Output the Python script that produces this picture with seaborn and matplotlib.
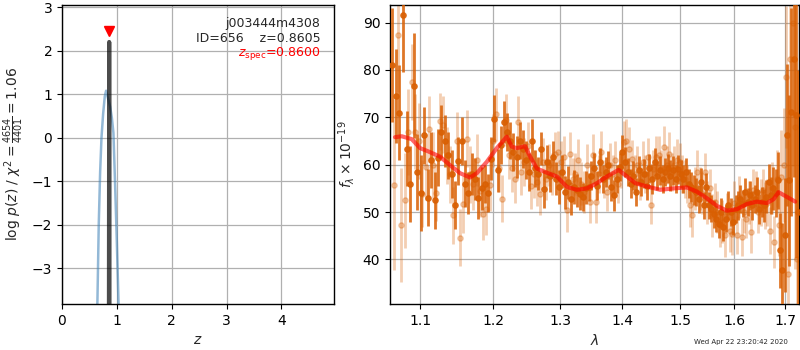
import numpy as np
import matplotlib
matplotlib.use("Agg")
import matplotlib.pyplot as plt
from matplotlib.ticker import NullLocator
import seaborn as sns

# ---------------- redshift probability ----------------
z_coarse = [0.63, 0.646, 0.67, 0.695, 0.72, 0.75, 0.78, 0.804, 0.83, 0.86,
            0.877, 0.91, 0.938, 0.969, 1.0, 1.03, 1.05]
logp_coarse = [-4.5, -3.75, -2.0, -0.8, 0.0, 0.55, 0.95, 1.08, 0.95, 0.8,
               0.72, 0.45, 0.11, -1.1, -2.4, -3.76, -4.5]
z_fine = [0.852, 0.8605, 0.869]
logp_fine = [-9.0, 2.2, -9.0]
z_best = 0.8605
z_spec = 0.8600
chi2_num = 4654
chi2_dof = 4401
obj_name = "j003444m4308"
obj_id = 656

# ---------------- 1D spectrum ----------------
pix_step = 0.0046          # microns per grism pixel
dark_wave0 = 1.0640
light_wave0 = 1.0663

dark_flux = (
    [81, 74.5, 71, 91.5, 63.4, 56, 76.7, 58.5, 54, 66.2, 53, 61, 52.5, 61.5, 67,
     65, 62, 58, 51.5, 60.8, 65, 56, 54, 58, 57, 53, 55, 56, 54]
    + [61.3, 69.7, 58.8, 64.1, 69, 66.9, 65.1, 62.7, 61.6, 65.1, 63.4, 60.9,
       58.5, 65.1, 59.2, 58.1, 63.4, 54.9, 60.6, 57.7, 61.6, 57, 55.3, 58.5,
       54.2, 56.3, 52.8, 55.3, 54.6, 53.9, 53.2, 55.1, 55.3]
    + [57.7, 59.2, 55.6, 60.6, 57, 58.5, 59.9, 55.3, 53.5, 57, 59.5, 62.7,
       60.6, 58.5, 56, 57.7, 54.2, 58.8, 56.3, 58.1, 55.6, 59.2, 57, 60.6,
       57.7, 58.8, 57, 58.5, 59.2, 57.7, 58.8, 57, 59, 58, 57, 58.5, 56, 55.3,
       54.6]
    + [54.2, 52.8, 56.3, 51.4, 55.3, 51.4, 50.7, 49.6, 48.6, 47.5, 50, 46.8,
       48.6, 51.4, 50, 47.9, 50.7, 51.4, 52.8, 51.8, 54.2, 52.1, 53.5, 51.4,
       52.8, 54.2, 50.7, 52.1, 51.4, 53.2, 56.3, 53.5, 55, 54, 56.7,
       41.9, 37.7, 45.1, 66.2, 56.7, 71.1, 82.4, 70.4, 50]
)
dark_err = (
    [12, 10, 10, 12, 8, 8, 11, 8, 8]
    + [6, 6, 6, 6, 6, 5.5, 5.5, 5, 5, 5, 5, 5, 5, 4.5, 4.5, 4.5, 4.5, 4.5, 4, 4]
    + [4.5, 5, 4.5, 4, 4.5, 4, 4, 4, 4.5, 4, 4, 4, 4, 4.5, 4, 3.5, 3.5, 4,
       3.5, 3.5, 3.5, 3.5, 3.5, 3.5, 3.5, 3.5, 3.5, 3.5, 3.5, 3.5, 3, 3.5, 3]
    + [3, 3.2, 3, 3, 3, 3.2, 3, 3, 3.2, 3, 3, 3.5, 3.2, 3, 3, 3, 3, 3, 3, 3,
       3, 3, 3.2, 3, 3, 3, 3, 3, 3, 3.2, 3, 3, 3, 3, 3, 3, 3, 3.2, 3.2]
    + [3, 3, 3, 2.8, 3, 2.8, 2.8, 3, 2.8, 3, 3, 3, 2.8, 3, 3, 2.8, 3, 3, 3,
       2.8, 3, 3, 3, 3, 3, 3.2, 3.2, 3.2, 3.5, 3.5, 3.8, 4, 4.5, 5, 6]
    + [8, 10, 12, 15, 18, 22, 25, 30, 30]
)

light_flux = (
    [55.8, 87.3, 47.2, 52.5, 66.9, 77.5, 67, 65, 53.9, 59.5, 67.6, 60, 54.1,
     69.2, 68.4, 62, 58, 49.3, 65.1, 44.6, 51.6, 65.5, 58, 56, 61, 54.5, 49.6,
     50.6, 55.8]
    + [65.1, 70.6, 59.2, 52.8, 69.4, 62, 59.2, 57, 69, 58.5, 60.6, 64, 55.6,
       58, 56.3, 53.9, 60.6, 57, 59.9, 58, 62.3, 62.7, 60.6, 61.6, 50.4, 62.3,
       57, 58, 60.9, 56, 54.2, 59.9, 52.1]
    + [62, 52.1, 58, 62.7, 57, 54.2, 60, 58, 61, 56, 59, 64.8, 65.1, 63.4,
       61.3, 58, 60, 56.5, 60.6, 58, 61.6, 51.4, 59, 61.6, 62, 59, 63.7, 60,
       62.3, 58.5, 60, 60.9, 60.6, 58, 57, 56, 51.4, 49.3, 55]
    + [58.5, 55, 54, 58.5, 52, 55, 49.3, 52.1, 50, 47.2, 48, 45.1, 50, 46,
       45.4, 52, 45.1, 53.2, 44.7, 50, 48.6, 52, 45.8, 54.6, 54.2, 50, 52,
       54.6, 51.4, 52, 46.1, 55, 43.7, 57, 47.2,
       57.4, 60, 78.5, 37, 82.4, 89.8, 68, 40]
)
light_err = (
    [18, 12, 12, 10, 9, 8, 8, 8, 7, 7, 7, 7, 6, 6, 6, 6, 6, 6, 6, 6, 6, 6, 6,
     5.5, 5.5, 5.5, 5.5, 5.5, 5.5]
    + [5.5, 5.5, 5, 5, 5.5, 5, 5, 5, 5.5, 5, 5, 5, 5, 5, 5, 4.5, 5, 4.5, 4.5,
       4.5, 4.5, 4.5, 4.5, 4.5, 4.5, 4.5, 4.5, 4.5, 4.5, 4.5, 4.5, 4.5, 4.5]
    + [4.5, 4.5, 4, 4.5, 4, 4, 4.5, 4, 4, 4, 4, 4.5, 4.5, 4.5, 4, 4, 4, 4,
       4.5, 4, 4, 4, 4, 4.5, 4, 4, 4.5, 4, 4.5, 4, 4, 4.5, 4, 4, 4, 4, 4.5,
       4.5, 4.5]
    + [4.5, 4.5, 4.5, 4, 4.5, 4, 4.5, 4, 4.5, 4.5, 4.5, 4.5, 4, 4.5, 4.5,
       4.5, 4, 4.5, 4, 4.5, 4, 4.5, 4.5, 4.5, 4.5, 4.5, 5, 4.5, 5, 5, 5, 5.5,
       5.5, 6, 6.5]
    + [10, 12, 15, 20, 25, 30, 30, 30]
)

model_wave = [1.0677, 1.0762, 1.0891, 1.1000, 1.1109, 1.1265, 1.1400, 1.1538,
              1.1675, 1.1770, 1.1911, 1.2054, 1.2198, 1.2271, 1.2345, 1.2468,
              1.2542, 1.2643, 1.2795, 1.2949, 1.3104, 1.3261, 1.3420, 1.3581,
              1.3744, 1.3936, 1.4076, 1.4216, 1.4416, 1.4646, 1.4881, 1.5120,
              1.5301, 1.5485, 1.5670, 1.5857, 1.6047, 1.6239, 1.6434, 1.6631,
              1.6763, 1.6863, 1.7033, 1.7203]
model_flux = [65.8, 66.0, 65.4, 63.5, 62.8, 61.7, 59.9, 58.2, 57.3, 58.2, 60.6,
              63.5, 65.9, 63.8, 63.5, 63.9, 61.7, 59.2, 58.3, 57.5, 55.3, 54.7,
              55.0, 56.1, 57.5, 58.9, 57.5, 56.1, 55.4, 54.7, 55.0, 55.2, 54.3,
              52.9, 51.3, 50.3, 50.6, 51.7, 52.2, 51.9, 52.7, 54.2, 53.2, 52.2]

wave_ticks = [1.1, 1.2, 1.3, 1.4, 1.5, 1.6, 1.7]
flux_ticks = [40, 50, 60, 70, 80, 90]
z_ticks = [0, 1, 2, 3, 4]
logp_ticks = [-3, -2, -1, 0, 1, 2, 3]
timestamp = "Wed Apr 22 23:20:42 2020"

# ---------------- style ----------------
sns.set_theme(style="ticks")
plt.rcParams.update({
    "font.family": ["DejaVu Sans"],
    "mathtext.fontset": "dejavusans",
    "font.size": 10,
    "axes.labelsize": 10,
    "xtick.labelsize": 10,
    "ytick.labelsize": 10,
    "axes.edgecolor": "black",
    "axes.linewidth": 1.0,
    "xtick.color": "black",
    "ytick.color": "black",
    "xtick.major.size": 3.5,
    "ytick.major.size": 3.5,
    "xtick.major.width": 0.8,
    "ytick.major.width": 0.8,
    "grid.color": "#b0b0b0",
    "grid.linewidth": 0.9,
})

spec_color = "#d95f02"

fig = plt.figure(figsize=(8, 3.5), dpi=100)
ax_pz = fig.add_axes([62 / 800, 46 / 350, 272 / 800, 299 / 350])
ax_sp = fig.add_axes([390 / 800, 46 / 350, 409 / 800, 299 / 350])

# ---- p(z) panel ----
sns.lineplot(x=z_coarse, y=logp_coarse, ax=ax_pz, color="#3a7fb5", alpha=0.55,
             linewidth=1.8, sort=False, estimator=None)
sns.lineplot(x=z_fine, y=logp_fine, ax=ax_pz, color="black", alpha=0.7,
             linewidth=3, sort=False, estimator=None)
ax_pz.plot([z_spec], [2.45], marker="v", color="red", markersize=7,
           linestyle="none")
ax_pz.set_xlim(0, 4.96)
ax_pz.set_ylim(-3.82, 3.05)
ax_pz.set_xticks(z_ticks)
ax_pz.set_yticks(logp_ticks)
ax_pz.grid(True)
ax_pz.set_axisbelow(True)
ax_pz.set_xlabel(r"$z$")
ax_pz.set_ylabel(r"log $p(z)$" + " / " +
                 r"$\chi^2=\frac{%d}{%d}=%.2f$" % (chi2_num, chi2_dof,
                                                   chi2_num / chi2_dof))
ax_pz.text(0.95, 0.96, "{0}\nID={1:<5d}  z={2:.4f}".format(obj_name, obj_id, z_best),
           ha="right", va="top", transform=ax_pz.transAxes, fontsize=9,
           linespacing=1.25)
ax_pz.text(0.95, 0.865, r"$z_\mathrm{spec}$=%.4f" % z_spec, ha="right",
           va="top", transform=ax_pz.transAxes, fontsize=9, color="red")

# ---- spectrum panel ----
light_wave = light_wave0 + pix_step * np.arange(len(light_flux))
dark_wave = dark_wave0 + pix_step * np.arange(len(dark_flux))

ax_sp.errorbar(light_wave, light_flux, yerr=light_err, fmt="o",
               color=spec_color, alpha=0.3, markersize=3.8, elinewidth=2,
               capsize=0, zorder=2)
ax_sp.errorbar(dark_wave, dark_flux, yerr=dark_err, fmt="o",
               color=spec_color, alpha=0.85, markersize=3.8, elinewidth=2,
               capsize=0, zorder=3)
sns.lineplot(x=model_wave, y=model_flux, ax=ax_sp, color="red", alpha=0.6,
             linewidth=3, sort=False, estimator=None, zorder=4)

ax_sp.set_xscale("log")
ax_sp.set_xlim(1.0613, 1.728)
ax_sp.set_ylim(30.6, 93.7)
ax_sp.set_xticks(wave_ticks)
ax_sp.set_xticklabels([f"{t:.1f}" for t in wave_ticks])
ax_sp.xaxis.set_minor_locator(NullLocator())
ax_sp.set_yticks(flux_ticks)
ax_sp.grid(True)
ax_sp.set_axisbelow(True)
ax_sp.set_xlabel(r"$\lambda$")
ax_sp.set_ylabel(r"$f_\lambda \times 10^{-19}$")

fig.text(0.985, 0.015, timestamp, ha="right", va="bottom", fontsize=5)

fig.savefig("out.png", dpi=100)
